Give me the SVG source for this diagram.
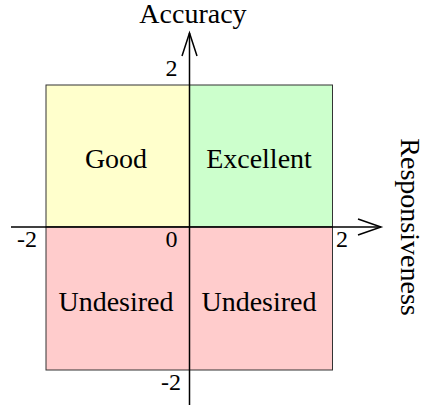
<svg xmlns="http://www.w3.org/2000/svg" width="421" height="408" viewBox="0 0 421 408">
<style>
.q{stroke:#333;stroke-width:1}
.ax{stroke:#000;stroke-width:1.5;fill:none}
text{font-family:"Liberation Serif","Times New Roman",serif;font-size:28px;fill:#000}
.t{font-size:24px}
.m{text-anchor:middle}
</style>
<rect width="421" height="408" fill="#fff"/>
<g id="good"><rect class="q" x="46" y="85" width="143.5" height="142" fill="#ffffcc"/><text class="m" x="116" y="168">Good</text></g>
<g id="excellent"><rect class="q" x="189.5" y="85" width="143" height="142" fill="#ccffcc"/><text class="m" x="259" y="168">Excellent</text></g>
<g id="undesired-left"><rect class="q" x="46" y="227" width="143.5" height="143" fill="#ffcccc"/><text class="m" x="116" y="311">Undesired</text></g>
<g id="undesired-right"><rect class="q" x="189.5" y="227" width="143" height="143" fill="#ffcccc"/><text class="m" x="259" y="311">Undesired</text></g>
<g id="axes">
<line class="ax" x1="11" y1="227" x2="381" y2="227"/>
<polyline class="ax" points="358,219 381,227 358,235"/>
<line class="ax" x1="189.5" y1="405" x2="189.5" y2="33"/>
<polyline class="ax" points="182,56 189.5,33 197,56"/>
</g>
<g id="labels">
<text class="m" x="193" y="22.5">Accuracy</text>
<text class="m" transform="translate(401,227) rotate(90)">Responsiveness</text>
<text class="t" x="165.5" y="76">2</text>
<text class="t" x="17" y="247">-2</text>
<text class="t" x="165.5" y="247">0</text>
<text class="t" x="336" y="247">2</text>
<text class="t" x="161" y="390">-2</text>
</g>
</svg>
